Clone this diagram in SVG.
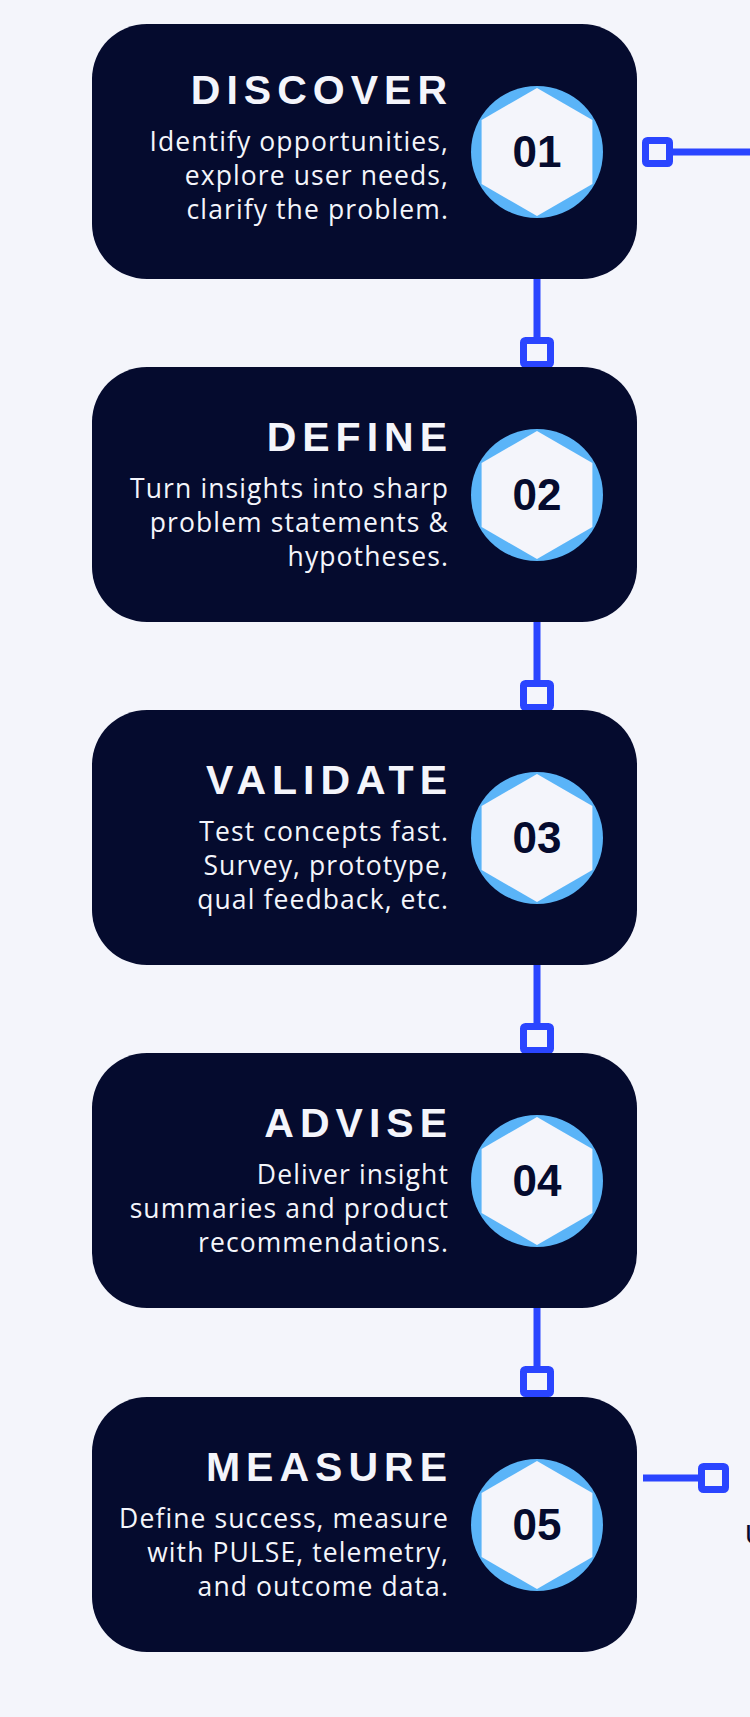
<svg xmlns="http://www.w3.org/2000/svg" width="750" height="1717" viewBox="0 0 750 1717">
<style>
.box{fill:#050b2e}
.ring{fill:#5ab4f8}
.hex{fill:#f4f5fb}
.t{font-family:"Liberation Sans",Arial,sans-serif;font-weight:bold;font-size:41px;letter-spacing:6px;fill:#f4f5fb;text-anchor:end}
.b{font-family:"Open Sans","Liberation Sans",Arial,sans-serif;font-size:26.5px;letter-spacing:1.1px;fill:#f4f5fb;text-anchor:end}
.n{font-family:"Liberation Sans",Arial,sans-serif;font-weight:bold;font-size:44px;fill:#050b2e;text-anchor:middle}
.ln{stroke:#2a45ff;stroke-width:7;fill:none}
.sq{stroke:#2a45ff;stroke-width:7;fill:#f4f5fb}
</style>
<defs>
<g id="badge"><circle r="66" class="ring"/><polygon class="hex" points="0,-64 55.4,-32 55.4,32 0,64 -55.4,32 -55.4,-32"/></g>
</defs>
<rect width="750" height="1717" fill="#f4f5fb"/>
<g id="connectors">
<line class="ln" x1="537" y1="279" x2="537" y2="340"/><rect class="sq" x="523.5" y="340.5" width="27" height="24" rx="2"/>
<line class="ln" x1="537" y1="622" x2="537" y2="683"/><rect class="sq" x="523.5" y="683.5" width="27" height="24" rx="2"/>
<line class="ln" x1="537" y1="965" x2="537" y2="1026"/><rect class="sq" x="523.5" y="1026.5" width="27" height="24" rx="2"/>
<line class="ln" x1="537" y1="1308" x2="537" y2="1369"/><rect class="sq" x="523.5" y="1369.5" width="27" height="24" rx="2"/>
<line class="ln" x1="670" y1="152" x2="750" y2="152"/><rect class="sq" x="645.5" y="140.5" width="24" height="23" rx="2"/>
<line class="ln" x1="643" y1="1478" x2="701" y2="1478"/><rect class="sq" x="701.5" y="1466.5" width="24" height="23" rx="2"/>
</g>
<g id="n1"><rect class="box" x="92" y="24" width="545" height="255" rx="55"/><text class="t" x="453" y="104">DISCOVER</text>
<text class="b" x="449" y="151">Identify opportunities,</text><text class="b" x="449" y="185">explore user needs,</text><text class="b" x="449" y="219">clarify the problem.</text>
<use href="#badge" x="537" y="152"/><text class="n" x="537" y="167">01</text></g>
<g id="n2"><rect class="box" x="92" y="367" width="545" height="255" rx="55"/><text class="t" x="453" y="451">DEFINE</text>
<text class="b" x="449" y="498">Turn insights into sharp</text><text class="b" x="449" y="532">problem statements &amp;</text><text class="b" x="449" y="566">hypotheses.</text>
<use href="#badge" x="537" y="495"/><text class="n" x="537" y="510">02</text></g>
<g id="n3"><rect class="box" x="92" y="710" width="545" height="255" rx="55"/><text class="t" x="453" y="794">VALIDATE</text>
<text class="b" x="449" y="841">Test concepts fast.</text><text class="b" x="449" y="875">Survey, prototype,</text><text class="b" x="449" y="909">qual feedback, etc.</text>
<use href="#badge" x="537" y="838"/><text class="n" x="537" y="853">03</text></g>
<g id="n4"><rect class="box" x="92" y="1053" width="545" height="255" rx="55"/><text class="t" x="453" y="1137">ADVISE</text>
<text class="b" x="449" y="1184">Deliver insight</text><text class="b" x="449" y="1218">summaries and product</text><text class="b" x="449" y="1252">recommendations.</text>
<use href="#badge" x="537" y="1181"/><text class="n" x="537" y="1196">04</text></g>
<g id="n5"><rect class="box" x="92" y="1397" width="545" height="255" rx="55"/><text class="t" x="453" y="1481">MEASURE</text>
<text class="b" x="449" y="1528">Define success, measure</text><text class="b" x="449" y="1562">with PULSE, telemetry,</text><text class="b" x="449" y="1596">and outcome data.</text>
<use href="#badge" x="537" y="1525"/><text class="n" x="537" y="1540">05</text></g>
<text x="745" y="1544" font-family="Liberation Sans,Arial,sans-serif" font-size="28" fill="#050b2e">U</text>
</svg>
